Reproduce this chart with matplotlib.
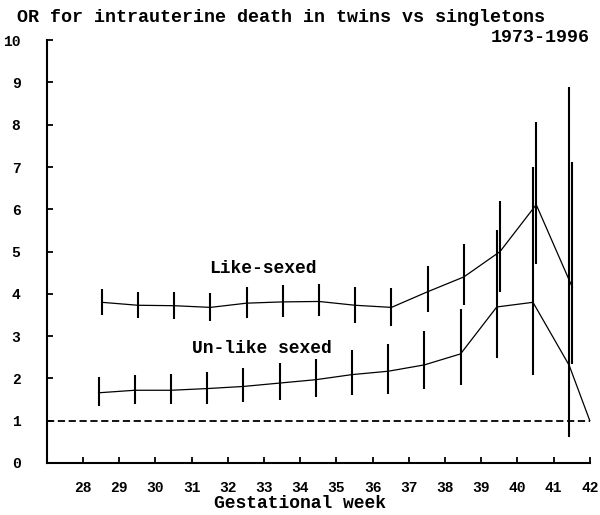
import numpy as np
import matplotlib
matplotlib.use("Agg")
import matplotlib.pyplot as plt

# ---- data ----
weeks = [28.5, 29.5, 30.5, 31.5, 32.5, 33.5, 34.5, 35.5, 36.5, 37.5, 38.5, 39.5, 40.5, 41.5]
x_ticks = [28, 29, 30, 31, 32, 33, 34, 35, 36, 37, 38, 39, 40, 41, 42]
y_ticks = [0, 1, 2, 3, 4, 5, 6, 7, 8, 9, 10]

like_or = [3.80, 3.73, 3.72, 3.68, 3.78, 3.81, 3.82, 3.73, 3.68, 4.05, 4.40, 5.00, 6.11, 4.15]
like_lo = [3.51, 3.44, 3.40, 3.36, 3.44, 3.46, 3.48, 3.32, 3.25, 3.56, 3.74, 4.05, 4.70, 2.35]
like_hi = [4.11, 4.05, 4.05, 4.01, 4.16, 4.21, 4.24, 4.16, 4.15, 4.66, 5.19, 6.20, 8.07, 7.13]

unlike_or = [1.66, 1.72, 1.72, 1.76, 1.81, 1.89, 1.97, 2.09, 2.17, 2.32, 2.58, 3.69, 3.80, 2.31]
unlike_lo = [1.35, 1.40, 1.39, 1.40, 1.44, 1.48, 1.56, 1.60, 1.62, 1.76, 1.84, 2.49, 2.07, 0.62]
unlike_hi = [2.03, 2.09, 2.11, 2.16, 2.25, 2.36, 2.46, 2.68, 2.81, 3.11, 3.64, 5.52, 7.01, 8.89]

unlike_tail_week = [42.0]
unlike_tail_or = [1.0]

reference_or = 1.0

title = "OR for intrauterine death in twins vs singletons"
period = "1973-1996"
xlabel = "Gestational week"
like_label = "Like-sexed"
unlike_label = "Un-like sexed"

# ---- style ----
FONT = ["Liberation Mono", "DejaVu Sans Mono"]
plt.rcParams["font.family"] = FONT

fig = plt.figure(figsize=(6.0, 5.15), dpi=100)
ax = fig.add_axes([0.078, 0.101, 0.905, 0.821])

like_x = np.array(weeks) + 0.02
unlike_x = np.array(weeks) - 0.07

# connecting lines
ax.plot(like_x, like_or, color="black", lw=0.9, clip_on=False)
ax.plot(list(unlike_x) + unlike_tail_week, unlike_or + unlike_tail_or,
        color="black", lw=0.9, clip_on=False)

# error bars
ax.vlines(like_x, like_lo, like_hi, color="black", lw=1.5, clip_on=False)
ax.vlines(unlike_x, unlike_lo, unlike_hi, color="black", lw=1.5, clip_on=False)

# reference line
ax.axhline(reference_or, color="black", lw=1.3, ls=(0, (4, 2)), clip_on=False)

ax.set_xlim(27, 42)
ax.set_ylim(0, 10)
ax.set_xticks(x_ticks)
ax.set_xticklabels([str(v) for v in x_ticks])
ax.set_yticks(y_ticks)
ax.set_yticklabels([str(v) for v in y_ticks])

for s in ["top", "right"]:
    ax.spines[s].set_visible(False)
for s in ["left", "bottom"]:
    ax.spines[s].set_linewidth(1.5)

ax.tick_params(axis="x", direction="in", length=4, width=1.3, pad=13,
               labelsize=10.5)
ax.tick_params(axis="y", direction="in", length=4, width=1.3, pad=19,
               labelsize=10.5)
for lab in ax.get_xticklabels() + ax.get_yticklabels():
    lab.set_fontweight("bold")

ax.text(32.96, 4.61, like_label, ha="center", va="center", fontsize=13,
        fontweight="bold")
ax.text(32.95, 2.70, unlike_label, ha="center", va="center", fontsize=13,
        fontweight="bold")

fig.text(17 / 600, 1 - 17.5 / 515, title, ha="left", va="center",
         fontsize=13.2, fontweight="bold")
fig.text(590 / 600, 1 - 37 / 515, period, ha="right", va="center",
         fontsize=13.2, fontweight="bold")
fig.text(300 / 600, 1 - 503 / 515, xlabel, ha="center", va="center",
         fontsize=13, fontweight="bold")

fig.savefig("out.png", dpi=100)
